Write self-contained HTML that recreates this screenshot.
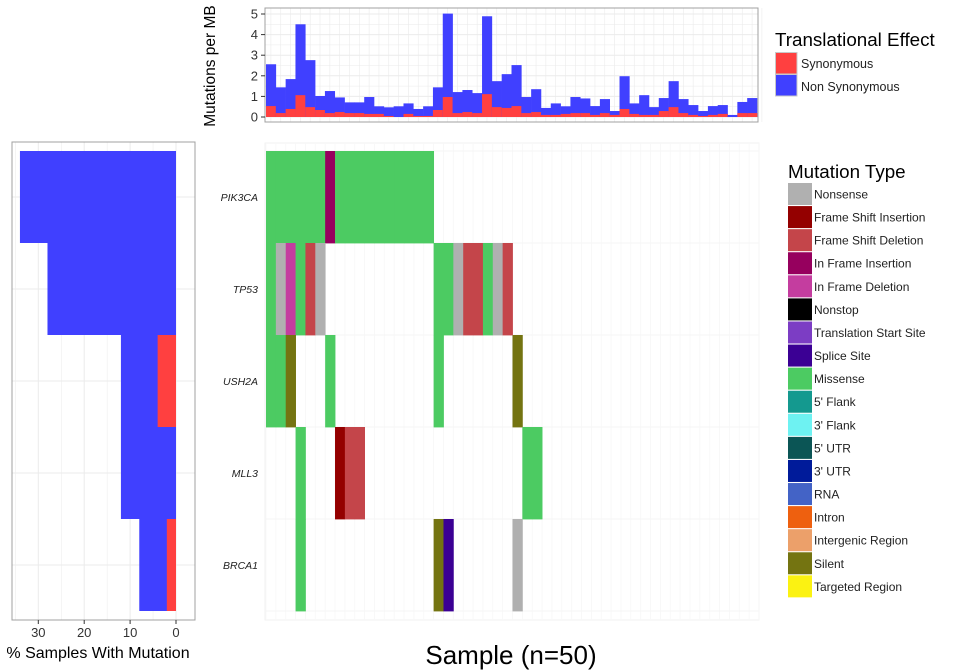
<!DOCTYPE html>
<html><head><meta charset="utf-8">
<style>
html,body{margin:0;padding:0;background:#fff;}
svg{display:block;font-family:"Liberation Sans",Arial,sans-serif;}
</style></head>
<body>
<svg id="chart" width="960" height="672" viewBox="0 0 960 672">
  <g id="topg"></g>
  <g id="leftg"></g>
  <g id="heat"></g>
  <g id="legends"></g>
  <text x="511" y="664" font-size="26" text-anchor="middle" fill="#000">Sample (n=50)</text>
  <text x="98" y="658" font-size="16" text-anchor="middle" fill="#000">% Samples With Mutation</text>
  <text transform="translate(215,66) rotate(-90)" font-size="15.5" text-anchor="middle" fill="#000">Mutations per MB</text>
</svg>
<script>
const totals=[2.56,1.44,1.84,4.5,2.76,1.02,1.26,0.95,0.71,0.71,0.97,0.52,0.47,0.52,0.66,0.39,0.52,1.44,5.02,1.21,1.31,1.16,4.89,1.74,2.08,2.52,0.97,1.35,0.44,0.66,0.52,0.97,0.9,0.53,0.87,0.29,1.98,0.66,1.06,0.48,0.92,1.74,0.87,0.58,0.29,0.53,0.58,0.1,0.73,0.92];
const synonymous=[0.53,0.19,0.39,1.06,0.48,0.34,0.19,0.24,0.19,0.19,0.15,0.15,0.05,0,0.15,0.05,0.05,0.34,0.97,0.19,0.24,0.19,1.11,0.48,0.44,0.53,0.19,0.24,0.1,0.1,0.15,0.19,0.19,0.1,0.19,0.1,0.39,0.15,0.1,0.1,0.29,0.48,0.19,0.1,0.05,0.1,0.15,0,0.19,0.19];
const topTicks=[0,1,2,3,4,5];
const genes=["PIK3CA","TP53","USH2A","MLL3","BRCA1"];
const genePctTotal=[34,28,12,12,8];
const genePctSyn=[0,0,4,0,2];
const leftTicks=[0,10,20,30];
const mutations=[
 [0,0,"Missense"],[0,1,"Missense"],[0,2,"Missense"],[0,3,"Missense"],[0,4,"Missense"],[0,5,"Missense"],[0,6,"In Frame Insertion"],
 [0,7,"Missense"],[0,8,"Missense"],[0,9,"Missense"],[0,10,"Missense"],[0,11,"Missense"],[0,12,"Missense"],[0,13,"Missense"],[0,14,"Missense"],[0,15,"Missense"],[0,16,"Missense"],
 [1,0,"Missense"],[1,1,"Nonsense"],[1,2,"In Frame Deletion"],[1,3,"Missense"],[1,4,"Frame Shift Deletion"],[1,5,"Nonsense"],
 [1,17,"Missense"],[1,18,"Missense"],[1,19,"Nonsense"],[1,20,"Frame Shift Deletion"],[1,21,"Frame Shift Deletion"],[1,22,"Missense"],[1,23,"Nonsense"],[1,24,"Frame Shift Deletion"],
 [2,0,"Missense"],[2,1,"Missense"],[2,2,"Silent"],[2,6,"Missense"],[2,17,"Missense"],[2,25,"Silent"],
 [3,3,"Missense"],[3,7,"Frame Shift Insertion"],[3,8,"Frame Shift Deletion"],[3,9,"Frame Shift Deletion"],[3,26,"Missense"],[3,27,"Missense"],
 [4,3,"Missense"],[4,17,"Silent"],[4,18,"Splice Site"],[4,25,"Nonsense"]
];
const mutTypes=["Nonsense","Frame Shift Insertion","Frame Shift Deletion","In Frame Insertion","In Frame Deletion","Nonstop","Translation Start Site","Splice Site","Missense","5' Flank","3' Flank","5' UTR","3' UTR","RNA","Intron","Intergenic Region","Silent","Targeted Region"];
const mutColors=["#b0b0b0","#940000","#c4454a","#96005e","#c43d9f","#000000","#7c3dc4","#3b0094","#4ccb62","#14998f","#6ef2f2","#0b5555","#001b9a","#4363c6","#ee600f","#eca06a","#747411","#fbf212"];
const NS="http://www.w3.org/2000/svg";
function mk(parent,tag,attrs,text){const e=document.createElementNS(NS,tag);for(const k in attrs)e.setAttribute(k,attrs[k]);if(text!==undefined)e.textContent=text;parent.appendChild(e);return e;}
const N=totals.length;
// TOP
const topG=document.getElementById('topg');
const tx0=266,tx1=757,tyTop=8,tyBot=122;
const bw=(tx1-tx0)/N;
const sx=i=>tx0+i*bw;
const ty=v=>117-v*(117-14)/5;
mk(topG,'rect',{x:265,y:tyTop,width:493,height:tyBot-tyTop,fill:'#fff'});
for(let i=0;i<=N;i++){mk(topG,'line',{x1:sx(i)+bw/2,x2:sx(i)+bw/2,y1:tyTop,y2:tyBot,stroke:'#ebebeb','stroke-width':0.6});}
for(let v=0;v<=5;v+=0.5){mk(topG,'line',{x1:265,x2:758,y1:ty(v),y2:ty(v),stroke:'#ebebeb','stroke-width':v%1===0?1:0.5});}
for(let i=0;i<N;i++){
 const b=mk(topG,'rect',{x:sx(i),y:ty(totals[i]),width:bw+0.3,height:ty(0)-ty(totals[i]),fill:'#4040ff'});
 
 
 if(synonymous[i]>0){const r=mk(topG,'rect',{x:sx(i),y:ty(synonymous[i]),width:bw+0.3,height:ty(0)-ty(synonymous[i]),fill:'#ff4040'});
 
 }
}
mk(topG,'rect',{x:265,y:tyTop,width:493,height:tyBot-tyTop,fill:'none',stroke:'#a0a0a0','stroke-width':1});
topTicks.forEach(v=>{mk(topG,'line',{x1:261,x2:265,y1:ty(v),y2:ty(v),stroke:'#333'});
 const t=mk(topG,'text',{x:258,y:ty(v)+4.5,'font-size':13,'text-anchor':'end',fill:'#333'},String(v));
 
 });
// LEFT
const leftG=document.getElementById('leftg');
const lx=v=>176-v*(176-38.3)/30;
const lyTop=151,lRow=(611-151)/genes.length;
for(const v of [0,5,10,15,20,25,30,35]){mk(leftG,'line',{x1:lx(v),x2:lx(v),y1:142,y2:620,stroke:'#ebebeb','stroke-width':v%10===0?1:0.5});}
genes.forEach((g,i)=>{const c=lyTop+(i+0.5)*lRow;mk(leftG,'line',{x1:12,x2:195,y1:c,y2:c,stroke:'#ebebeb'});
 const b=mk(leftG,'rect',{x:lx(genePctTotal[i]),y:lyTop+i*lRow,width:lx(0)-lx(genePctTotal[i]),height:lRow,fill:'#4040ff'});
 
 
 if(genePctSyn[i]>0){const r=mk(leftG,'rect',{x:lx(genePctSyn[i]),y:lyTop+i*lRow,width:lx(0)-lx(genePctSyn[i]),height:lRow,fill:'#ff4040'});
 
 }
 const t=mk(leftG,'text',{x:258,y:c+4,'font-size':10.5,'font-style':'italic','text-anchor':'end',fill:'#222'},g);
 
 
});
mk(leftG,'rect',{x:12,y:142,width:183,height:478,fill:'none',stroke:'#a0a0a0'});
leftTicks.forEach(v=>{mk(leftG,'line',{x1:lx(v),x2:lx(v),y1:620,y2:624,stroke:'#333'});
 const t=mk(leftG,'text',{x:lx(v),y:637,'font-size':13,'text-anchor':'middle',fill:'#333'},String(v));
 
 });
// HEATMAP
const heat=document.getElementById('heat');
const hx0=266,hx1=759,hyTop=151,hRow=(611-151)/genes.length,hw=(hx1-hx0)/N;
mk(heat,'rect',{x:265,y:143,width:494,height:477,fill:'#fff',stroke:'#f2f2f2'});
for(let i=0;i<=N;i++)mk(heat,'line',{x1:hx0+i*hw,x2:hx0+i*hw,y1:143,y2:620,stroke:'#f7f7f7','stroke-width':0.8});
for(let g=0;g<=genes.length;g++)mk(heat,'line',{x1:265,x2:759,y1:hyTop+g*hRow,y2:hyTop+g*hRow,stroke:'#f5f5f5'});
mutations.forEach(m=>{const c=mutColors[mutTypes.indexOf(m[2])];
 const r=mk(heat,'rect',{x:hx0+m[1]*hw,y:hyTop+m[0]*hRow,width:hw+0.4,height:hRow+0.4,fill:c});
 
 });
// LEGENDS
const lg=document.getElementById('legends');
mk(lg,'text',{x:775,y:46,'font-size':18.8,fill:'#000'},'Translational Effect');
[['Synonymous','#ff4040'],['Non Synonymous','#4040ff']].forEach((e,i)=>{
 const r=mk(lg,'rect',{x:775.5,y:52.5+i*22,width:21.5,height:21.5,fill:e[1],stroke:'#c8c8c8'});
 
 
 mk(lg,'text',{x:801,y:68+i*23,'font-size':12.5,fill:'#222'},e[0]);});
mk(lg,'text',{x:788,y:178,'font-size':18.8,fill:'#000'},'Mutation Type');
mutTypes.forEach((t,i)=>{
 const r=mk(lg,'rect',{x:788,y:183+i*23.08,width:24,height:22,fill:mutColors[i]});
 
 
 mk(lg,'text',{x:814,y:198.5+i*23.08,'font-size':12,fill:'#222'},t);});
</script>
</body></html>
